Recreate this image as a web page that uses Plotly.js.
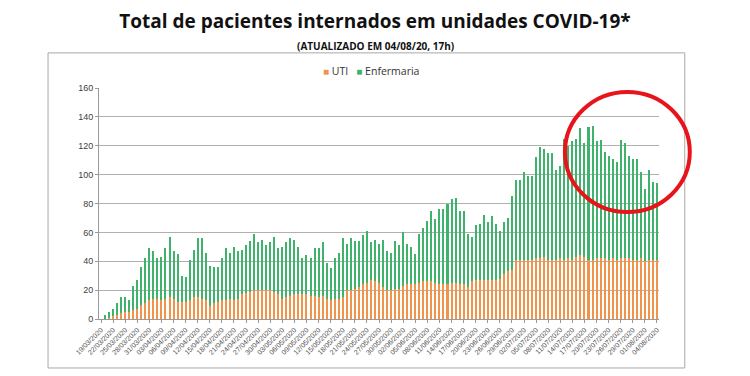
<!DOCTYPE html>
<html>
<head>
<meta charset="utf-8">
<script src="https://cdn.plot.ly/plotly-3.0.1.min.js"></script>
<style>
html,body{margin:0;padding:0;background:#ffffff;}
#chart{width:750px;height:376px;}
</style>
</head>
<body>
<div id="chart"></div>
<script>
const dates = [
"19/03/2020","20/03/2020","21/03/2020","22/03/2020","23/03/2020","24/03/2020","25/03/2020","26/03/2020","27/03/2020","28/03/2020","29/03/2020","30/03/2020","31/03/2020",
"01/04/2020","02/04/2020","03/04/2020","04/04/2020","05/04/2020","06/04/2020","07/04/2020","08/04/2020","09/04/2020","10/04/2020","11/04/2020","12/04/2020","13/04/2020","14/04/2020","15/04/2020","16/04/2020","17/04/2020","18/04/2020","19/04/2020","20/04/2020","21/04/2020","22/04/2020","23/04/2020","24/04/2020","25/04/2020","26/04/2020","27/04/2020","28/04/2020","29/04/2020","30/04/2020",
"01/05/2020","02/05/2020","03/05/2020","04/05/2020","05/05/2020","06/05/2020","07/05/2020","08/05/2020","09/05/2020","10/05/2020","11/05/2020","12/05/2020","13/05/2020","14/05/2020","15/05/2020","16/05/2020","17/05/2020","18/05/2020","19/05/2020","20/05/2020","21/05/2020","22/05/2020","23/05/2020","24/05/2020","25/05/2020","26/05/2020","27/05/2020","28/05/2020","29/05/2020","30/05/2020","31/05/2020",
"01/06/2020","02/06/2020","03/06/2020","04/06/2020","05/06/2020","06/06/2020","07/06/2020","08/06/2020","09/06/2020","10/06/2020","11/06/2020","12/06/2020","13/06/2020","14/06/2020","15/06/2020","16/06/2020","17/06/2020","18/06/2020","19/06/2020","20/06/2020","21/06/2020","22/06/2020","23/06/2020","24/06/2020","25/06/2020","26/06/2020","27/06/2020","28/06/2020","29/06/2020","30/06/2020",
"01/07/2020","02/07/2020","03/07/2020","04/07/2020","05/07/2020","06/07/2020","07/07/2020","08/07/2020","09/07/2020","10/07/2020","11/07/2020","12/07/2020","13/07/2020","14/07/2020","15/07/2020","16/07/2020","17/07/2020","18/07/2020","19/07/2020","20/07/2020","21/07/2020","22/07/2020","23/07/2020","24/07/2020","25/07/2020","26/07/2020","27/07/2020","28/07/2020","29/07/2020","30/07/2020","31/07/2020",
"01/08/2020","02/08/2020","03/08/2020","04/08/2020"
];

const uti = [
0,0,1,2,3,4,5,5,6,7,10,11,13,14,14,13,14,15,14,12,12,12,13,15,15,14,13,9,11,12,13,13,14,13,14,17,18,19,20,20,
20,20,20,19,17,14,15,16,17,17,17,17,16,16,15,16,14,13,14,14,15,20,20,21,22,24,25,27,26,25,22,20,20,21,21,23,24,24,24,25,
26,26,26,25,24,24,24,25,25,24,24,22,26,27,27,27,27,27,27,28,31,33,34,41,41,41,41,41,42,42,43,41,41,41,42,41,42,41,43,44,
43,41,41,42,42,42,41,42,41,42,42,42,41,41,42,40,41,41,41
];

const enfermaria = [
0,3,4,5,8,11,10,8,17,20,26,31,36,33,28,30,35,42,33,33,18,17,28,33,41,42,33,28,25,24,29,36,32,37,33,31,33,35,39,33,
35,31,33,38,32,36,38,40,38,33,25,27,26,33,34,37,25,22,28,32,41,32,36,33,32,34,36,26,29,27,33,27,26,33,30,37,28,26,21,34,
37,42,49,44,52,52,56,58,59,51,51,37,31,38,39,45,40,44,39,33,36,37,51,55,55,61,58,58,70,77,75,74,74,62,64,84,78,82,82,88,
79,92,93,81,82,74,72,69,68,82,80,71,70,70,60,50,62,54,53
];

const seriesNames = ['UTI', 'Enfermaria'];
const seriesColors = ['#f0944c', '#3fb36c'];
const tickDates = dates.filter((d, i) => i % 3 === 0);

const traces = [
  {type:'bar', name:seriesNames[0], x:dates, y:uti, marker:{color:seriesColors[0]}, showlegend:false},
  {type:'bar', name:seriesNames[1], x:dates, y:enfermaria, marker:{color:seriesColors[1]}, showlegend:false}
];

const legendText = seriesNames.map((n, i) =>
  '<span style="color:' + seriesColors[i] + ';font-size:10px">■</span>&nbsp;' + n
).join('&nbsp;&nbsp;&nbsp;');

const layout = {
  width:750, height:376,
  barmode:'stack', bargap:0.5,
  paper_bgcolor:'#ffffff', plot_bgcolor:'#ffffff',
  margin:{l:99, r:91, t:88, b:57},
  font:{family:'"Liberation Sans", Arial, sans-serif', color:'#404040'},
  title:{text:'<b>Total de pacientes internados em unidades COVID-19*</b>', x:0.5, xref:'container', xanchor:'center', y:0.942, yref:'container', yanchor:'middle', font:{family:'"Open Sans", sans-serif', size:19, color:'#111111'}},
  xaxis:{type:'category', categoryorder:'array', categoryarray:dates, tickmode:'array', tickvals:tickDates, ticktext:tickDates, tickangle:-45, tickfont:{size:7, color:'#505050'}, showgrid:false, showline:true, linecolor:'#999999', ticks:'outside', ticklen:3, tickcolor:'#999999', automargin:false},
  yaxis:{range:[0,160], dtick:20, tickfont:{size:9, color:'#404040'}, showgrid:true, gridcolor:'#b0b0b0', gridwidth:1, showline:true, linecolor:'#999999', zeroline:false, ticks:'outside', ticklen:3, tickcolor:'#999999', automargin:false},
  annotations:[
    {text:'<b>(ATUALIZADO EM 04/08/20, 17h)</b>', xref:'paper', yref:'paper', x:0.493, y:1.182, xanchor:'center', yanchor:'middle', showarrow:false, font:{family:'"Open Sans", sans-serif', size:10, color:'#111111'}},
    {text:legendText, xref:'paper', yref:'paper', x:0.486, y:1.075, xanchor:'center', yanchor:'middle', showarrow:false, font:{family:'"Open Sans", sans-serif', size:10.5, color:'#333333'}}
  ],
  shapes:[
    {type:'rect', xref:'paper', yref:'paper', x0:-0.091, x1:1.046, y0:-0.212, y1:1.152, line:{color:'#a8a8a8', width:1}, fillcolor:'rgba(0,0,0,0)', layer:'below'},
    {type:'circle', xref:'paper', yref:'paper', x0:0.832, x1:1.055, y0:0.463, y1:0.983, line:{color:'#e8141c', width:4}}
  ]
};

Plotly.newPlot('chart', traces, layout, {staticPlot:true, displayModeBar:false});
</script>
</body>
</html>
